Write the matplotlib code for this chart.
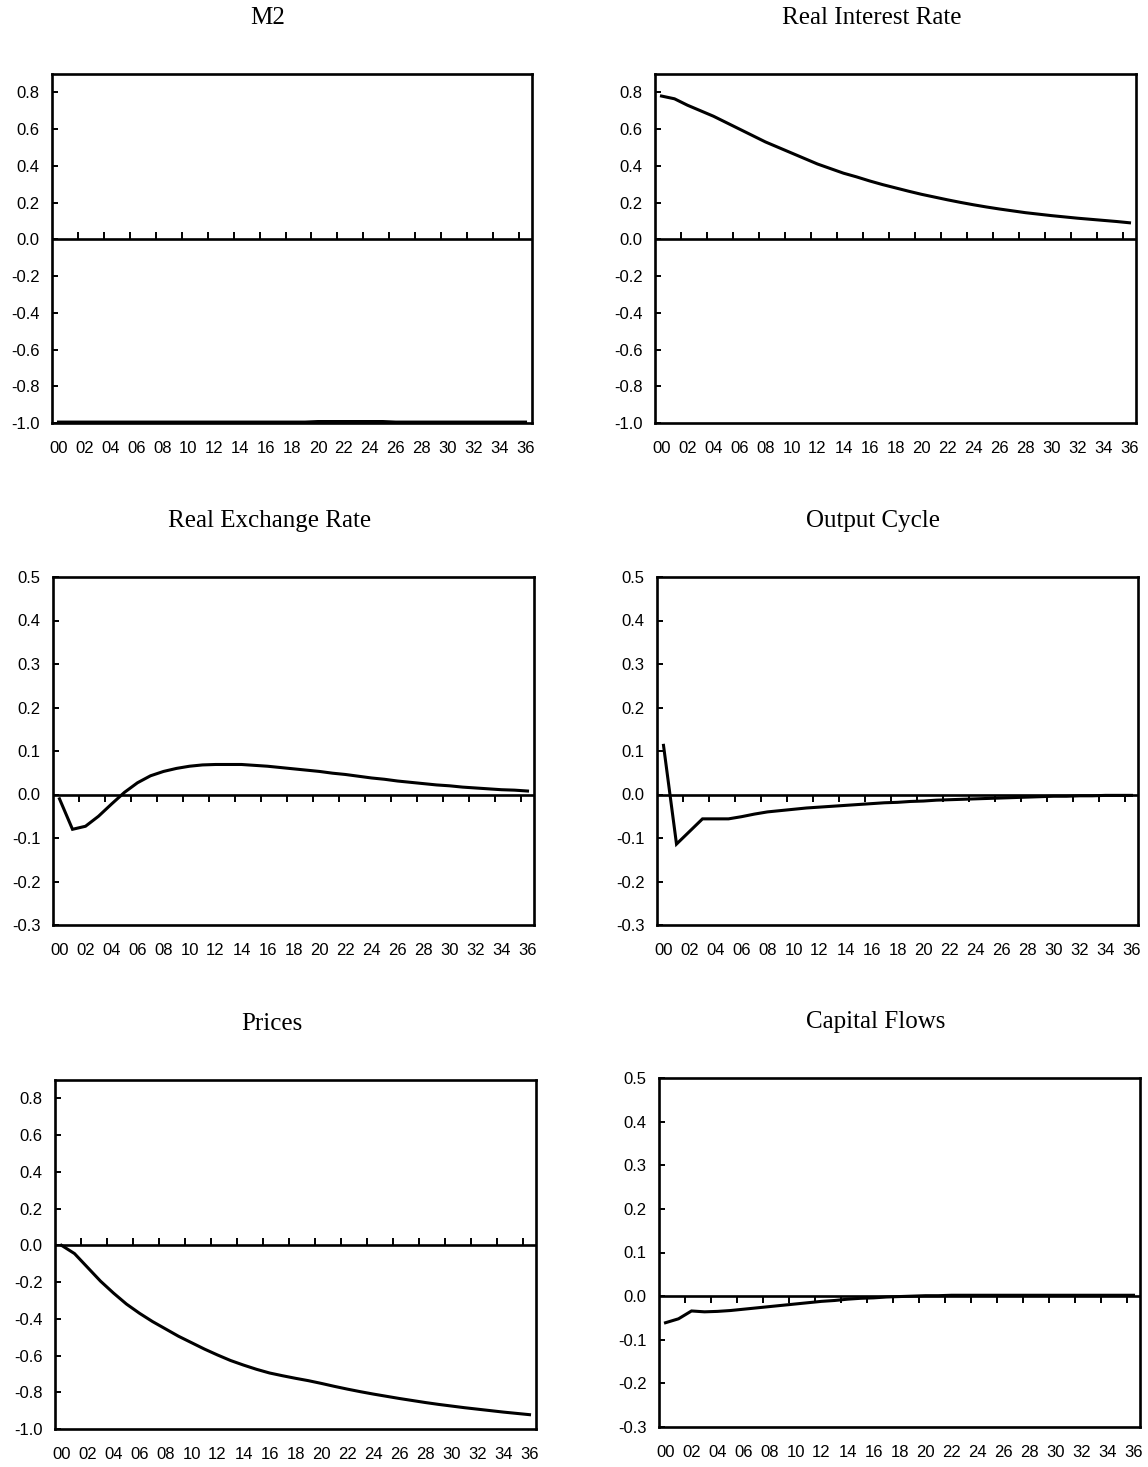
import matplotlib
matplotlib.use("Agg")
import matplotlib.pyplot as plt

plt.rcParams['font.family'] = ['Liberation Sans', 'DejaVu Sans']

periods = list(range(37))
xlabels = ["%02d" % p for p in periods[::2]]

m2 = [-0.995, -0.995, -0.995, -0.995, -0.995, -0.995, -0.995, -0.995, -0.995, -0.995,
      -0.995, -0.995, -0.995, -0.995, -0.995, -0.995, -0.995, -0.995, -0.995, -0.995,
      -0.992, -0.992, -0.992, -0.992, -0.992, -0.992, -0.995, -0.995, -0.995, -0.995,
      -0.995, -0.995, -0.995, -0.995, -0.995, -0.995, -0.995]

real_rate = [0.78, 0.765, 0.73, 0.70, 0.67, 0.635, 0.60, 0.565, 0.53, 0.50,
             0.47, 0.44, 0.41, 0.385, 0.36, 0.34, 0.318, 0.298, 0.28, 0.262,
             0.245, 0.23, 0.215, 0.201, 0.188, 0.176, 0.165, 0.155, 0.145, 0.137,
             0.129, 0.122, 0.115, 0.109, 0.103, 0.097, 0.09]

real_exch = [-0.01, -0.08, -0.073, -0.05, -0.022, 0.005, 0.027, 0.043, 0.053, 0.06,
             0.065, 0.068, 0.069, 0.069, 0.069, 0.067, 0.065, 0.062, 0.059, 0.056,
             0.053, 0.049, 0.046, 0.042, 0.038, 0.035, 0.031, 0.028, 0.025, 0.022,
             0.02, 0.017, 0.015, 0.013, 0.011, 0.01, 0.008]

output_cycle = [0.113, -0.114, -0.085, -0.056, -0.056, -0.056, -0.051, -0.045, -0.04, -0.037,
                -0.034, -0.031, -0.029, -0.027, -0.025, -0.023, -0.021, -0.019, -0.018, -0.016,
                -0.015, -0.013, -0.012, -0.011, -0.01, -0.009, -0.008, -0.007, -0.006, -0.005,
                -0.004, -0.004, -0.003, -0.003, -0.002, -0.002, -0.002]

prices = [0.0, -0.045, -0.12, -0.195, -0.26, -0.32, -0.37, -0.415, -0.455, -0.495,
          -0.53, -0.565, -0.597, -0.627, -0.652, -0.675, -0.695, -0.71, -0.724, -0.737,
          -0.752, -0.768, -0.783, -0.797, -0.81, -0.822, -0.834, -0.845, -0.856, -0.866,
          -0.875, -0.884, -0.892, -0.9, -0.908, -0.915, -0.922]

capital_flows = [-0.061, -0.052, -0.034, -0.036, -0.035, -0.033, -0.03, -0.027, -0.024, -0.021,
                 -0.018, -0.015, -0.012, -0.01, -0.007, -0.005, -0.004, -0.002, -0.001, 0.0,
                 0.001, 0.001, 0.002, 0.002, 0.002, 0.002, 0.002, 0.002, 0.002, 0.002,
                 0.002, 0.002, 0.002, 0.002, 0.002, 0.002, 0.002]

big_ticks = [0.8, 0.6, 0.4, 0.2, 0.0, -0.2, -0.4, -0.6, -0.8, -1.0]
small_ticks = [0.5, 0.4, 0.3, 0.2, 0.1, 0.0, -0.1, -0.2, -0.3]

panels = [
    ("M2", m2, (-1.0, 0.9), big_ticks, [52, 74, 532, 423]),
    ("Real Interest Rate", real_rate, (-1.0, 0.9), big_ticks, [655, 74, 1136, 423]),
    ("Real Exchange Rate", real_exch, (-0.3, 0.5), small_ticks, [53, 577, 534, 925]),
    ("Output Cycle", output_cycle, (-0.3, 0.5), small_ticks, [657, 577, 1138, 925]),
    ("Prices", prices, (-1.0, 0.9), big_ticks, [55, 1080, 536, 1429]),
    ("Capital Flows", capital_flows, (-0.3, 0.5), small_ticks, [659, 1078, 1140, 1427]),
]

W, H = 1148, 1467
fig = plt.figure(figsize=(W / 100, H / 100), dpi=100)

for title, vals, ylim, yt, (x0, y0, x1, y1) in panels:
    ax = fig.add_axes([x0 / W, 1 - y1 / H, (x1 - x0) / W, (y1 - y0) / H])
    ax.plot(periods, vals, color='black', lw=2.2, solid_joinstyle='miter')
    ax.axhline(0, color='black', lw=1.9)
    ax.set_xlim(-0.5, 36.5)
    ax.set_ylim(*ylim)
    ax.set_yticks(yt)
    ax.set_yticklabels(["%.1f" % v for v in yt])
    ax.set_xticks(periods[::2])
    ax.set_xticklabels(xlabels)
    ax.tick_params(axis='x', length=0, pad=13, labelsize=12)
    ax.tick_params(axis='y', direction='in', length=4, width=1.4, pad=9, labelsize=12)
    for s in ax.spines.values():
        s.set_linewidth(1.9)
    # small tick marks on the zero line, between the labels
    frac = (0 - ylim[0]) / (ylim[1] - ylim[0])
    sec = ax.secondary_xaxis(frac)
    sec.set_xticks([p + 0.5 for p in periods[1:36:2]])
    sec.tick_params(direction='out', length=5, width=1.4, labelbottom=False, labeltop=False)
    sec.spines['bottom'].set_visible(False)
    sec.spines['top'].set_visible(False)
    cx = (x0 + x1) / 2 - 24
    fig.text(cx / W, 1 - (y0 - 56) / H, title, ha='center', va='center',
             fontsize=18, family='Liberation Serif')

fig.savefig("out.png", dpi=100)
